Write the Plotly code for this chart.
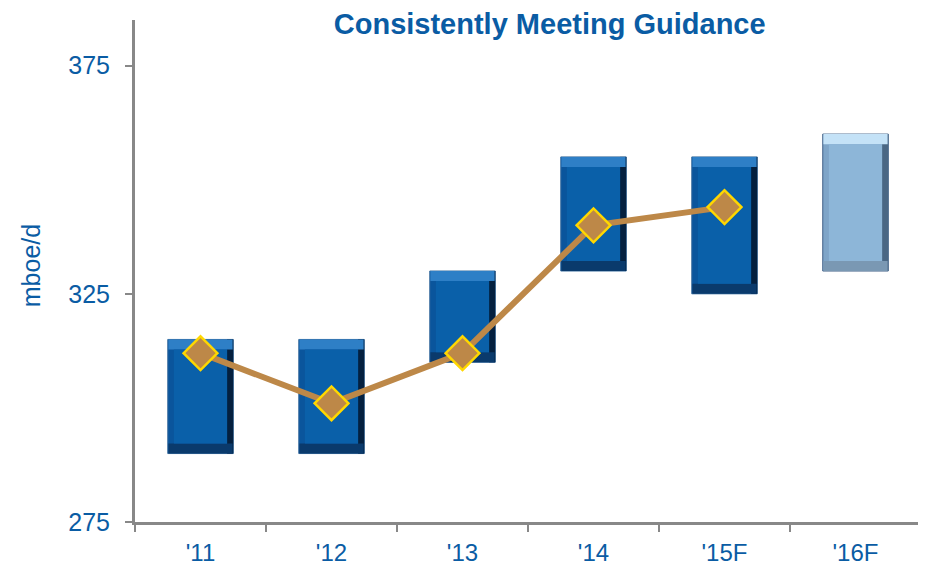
import plotly.graph_objects as go

categories = ["'11", "'12", "'13", "'14", "'15F", "'16F"]
guidance_low = [290, 290, 310, 330, 325, 330]
guidance_high = [315, 315, 330, 355, 355, 360]
actual_cats = ["'11", "'12", "'13", "'14", "'15F"]
actual_vals = [312, 301, 312, 340, 344]
y_ticks = [275, 325, 375]

text_blue = "#0a5ca4"
outer_cols = ["#0a559c"] * 5 + ["#7fa5c8"]
outer_line = ["#3b6e9e"] * 5 + ["#3f5f86"]
right_cols = ["#04203f"] * 5 + ["#4a6784"]
bottom_cols = ["#0a3a6c"] * 5 + ["#7a98b3"]
top_cols = ["#2e7fc6"] * 5 + ["#c4e2f7"]
face_cols = ["#0a60a9"] * 5 + ["#8db6d8"]
bev = 2.2      # bevel depth (y units)
bw = 0.5       # bar width (category units)
side = 0.047   # side bevel width (category units)

spans = [h - l for h, l in zip(guidance_high, guidance_low)]
n = len(categories)

fig = go.Figure()
# outer bar (left bevel colour)
fig.add_trace(go.Bar(x=categories, y=spans, base=guidance_low, width=bw,
                     marker=dict(color=outer_cols, line=dict(color=outer_line, width=1)),
                     hoverinfo="skip"))
# right dark bevel
fig.add_trace(go.Bar(x=categories, y=spans, base=guidance_low, width=[side] * n,
                     offset=bw / 2 - side,
                     marker=dict(color=right_cols, line=dict(width=0)), hoverinfo="skip"))
# bottom bevel
fig.add_trace(go.Bar(x=categories, y=[bev] * n, base=guidance_low, width=bw - 0.01,
                     marker=dict(color=bottom_cols, line=dict(width=0)), hoverinfo="skip"))
# top highlight bevel
fig.add_trace(go.Bar(x=categories, y=[bev] * n, base=[h - bev for h in guidance_high],
                     width=bw - 0.01,
                     marker=dict(color=top_cols, line=dict(width=0)), hoverinfo="skip"))
# face
fig.add_trace(go.Bar(x=categories, y=[s - 2 * bev for s in spans],
                     base=[l + bev for l in guidance_low], width=bw - 2 * side,
                     marker=dict(color=face_cols, line=dict(width=0)), hoverinfo="skip"))

fig.add_trace(go.Scatter(
    x=actual_cats, y=actual_vals, mode="lines+markers",
    line=dict(color="#bd8848", width=6),
    marker=dict(symbol="diamond", size=26, color="#bd8848",
                line=dict(color="#ffd700", width=2.5)),
))

fig.add_annotation(
    text="mboe/d", xref="paper", yref="paper", x=-0.132, y=0.51,
    xanchor="center", yanchor="middle", textangle=-90, showarrow=False,
    font=dict(size=25, color=text_blue, family="Liberation Sans, Arial"),
)

fig.update_layout(
    width=926, height=566,
    margin=dict(l=127, r=13, t=12, b=52),
    plot_bgcolor="white", paper_bgcolor="white",
    showlegend=False, barmode="overlay",
    font=dict(family="Liberation Sans, Arial", color=text_blue, size=25),
    title=dict(text="<b>Consistently Meeting Guidance</b>", x=0.585, xanchor="center",
               y=0.972, yanchor="middle",
               font=dict(size=29, color=text_blue, family="Liberation Sans, Arial")),
)
fig.update_xaxes(
    type="category", categoryorder="array", categoryarray=categories,
    showline=True, linecolor="#888888", linewidth=3,
    ticks="outside", tickson="boundaries", ticklen=7, tickcolor="#888888", tickwidth=2,
    showgrid=False, tickfont=dict(size=24, color=text_blue), automargin=False,
    ticklabelstandoff=7,
)
fig.update_yaxes(
    range=[275, 385], tickvals=y_ticks,
    showline=True, linecolor="#888888", linewidth=3,
    ticks="outside", ticklen=7, tickcolor="#888888", tickwidth=2,
    showgrid=False, zeroline=False, tickfont=dict(size=25, color=text_blue),
    automargin=False, ticklabelstandoff=10,
)
fig.write_html("out.html")
